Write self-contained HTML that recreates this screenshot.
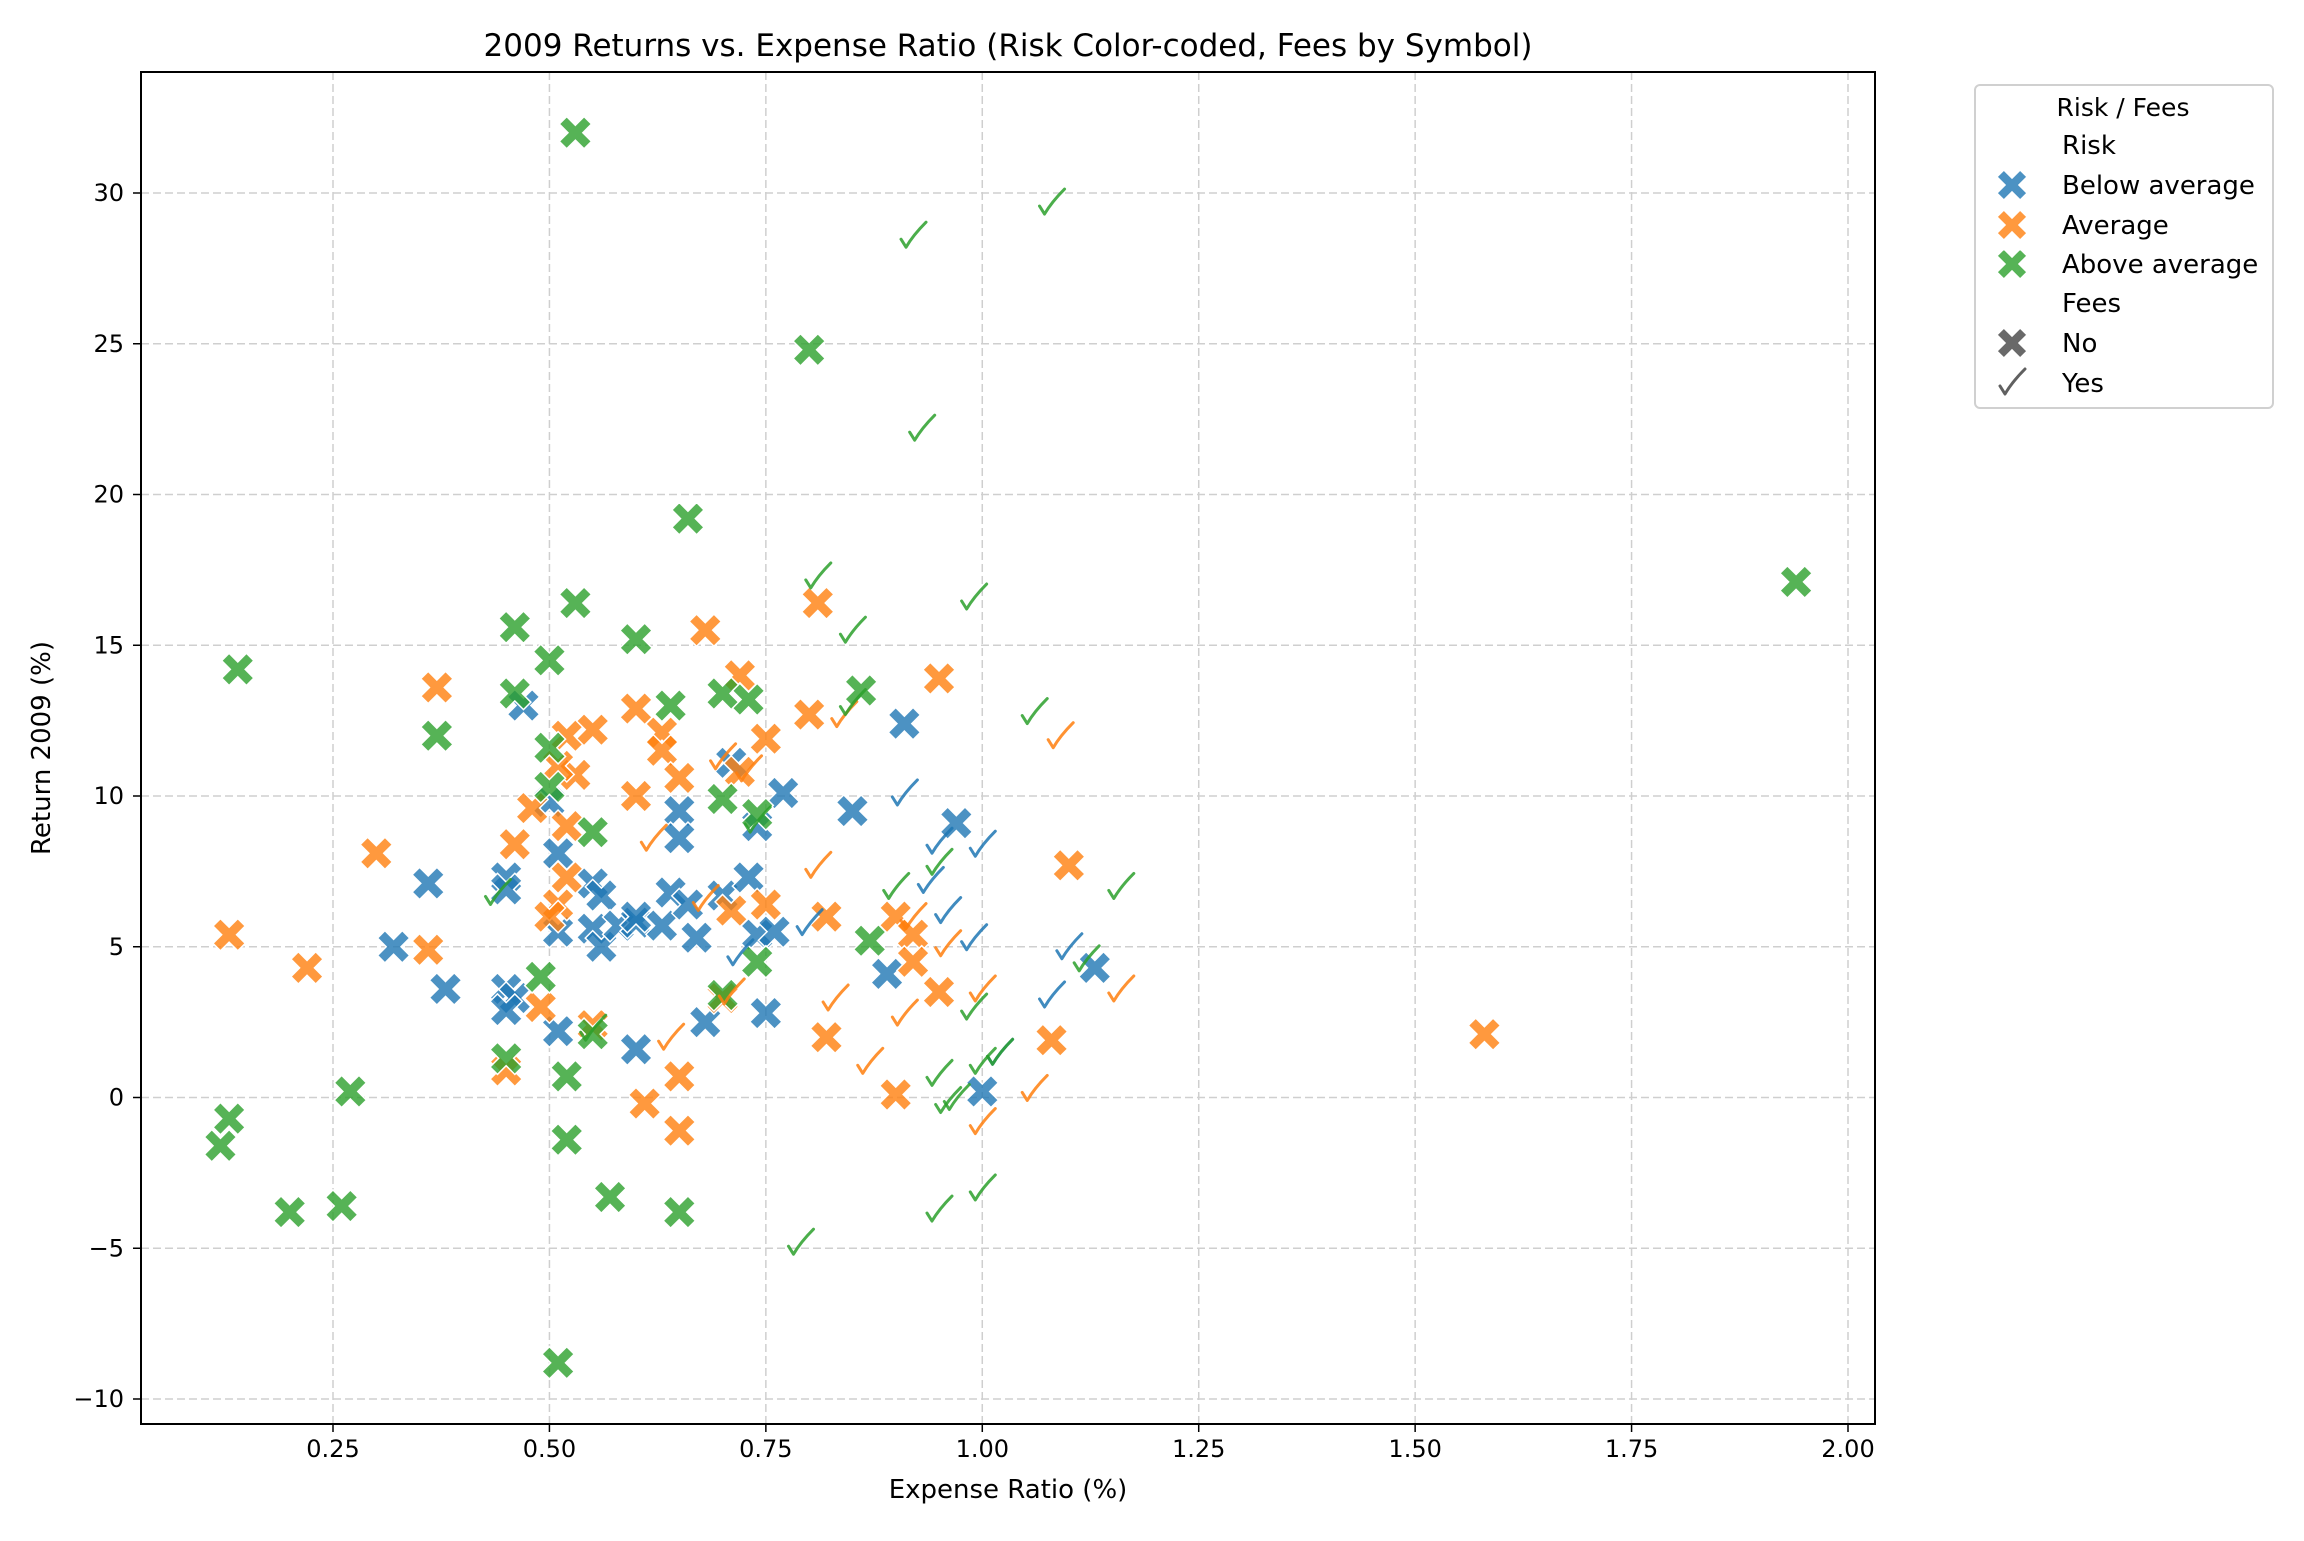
<!DOCTYPE html>
<html><head><meta charset="utf-8"><style>
html,body{margin:0;padding:0;background:#fff;}
svg text{font-family:"DejaVu Sans","Liberation Sans",sans-serif;}
</style></head><body>
<svg id="chart" width="2304" height="1536" xmlns="http://www.w3.org/2000/svg">
<rect width="2304" height="1536" fill="#fff"/>
<g id="grid"></g>
<g id="marks"></g>
<rect x="141" y="72" width="1734" height="1352" fill="none" stroke="#000" stroke-width="2"/>
<g id="ticks"></g>
<text x="1008" y="56" font-size="31" text-anchor="middle">2009 Returns vs. Expense Ratio (Risk Color-coded, Fees by Symbol)</text>
<text x="1008" y="1498" font-size="26" text-anchor="middle">Expense Ratio (%)</text>
<text transform="translate(50,748) rotate(-90)" font-size="26" text-anchor="middle">Return 2009 (%)</text>
<g id="legend">
<rect x="1975" y="85" width="298" height="323" rx="5" fill="#fff" stroke="#d0d0d0" stroke-width="2"/>
<text x="2123" y="116" font-size="25" text-anchor="middle">Risk / Fees</text>
<text x="2062" y="154" font-size="26">Risk</text>
<text x="2062" y="194" font-size="26">Below average</text>
<text x="2062" y="234" font-size="26">Average</text>
<text x="2062" y="273" font-size="26">Above average</text>
<text x="2062" y="312" font-size="26">Fees</text>
<text x="2062" y="352" font-size="26">No</text>
<text x="2062" y="392" font-size="26">Yes</text>
</g>
</svg>
<script>
const xTicks = [0.25,0.5,0.75,1.0,1.25,1.5,1.75,2.0];
const xTickLabels = ["0.25","0.50","0.75","1.00","1.25","1.50","1.75","2.00"];
const yTicks = [-10,-5,0,5,10,15,20,25,30];
const yTickLabels = ["\u221210","\u22125","0","5","10","15","20","25","30"];
const riskColors = {B:"#1f77b4",A:"#ff7f0e",H:"#2ca02c"};
const belowNo = [[0.47,13.0],[0.91,12.4],[0.77,10.1],[0.85,9.5],[0.97,9.1],[0.65,9.5],[0.65,8.6],[0.74,9.0],[0.36,7.1],[0.45,7.3],[0.45,6.9],[0.51,8.1],[0.50,9.8],[0.32,5.0],[0.38,3.6],[0.45,3.6],[0.46,3.3],[0.45,2.9],[0.51,2.2],[0.51,5.5],[0.55,7.1],[0.55,5.6],[0.56,6.7],[0.56,5.0],[0.58,5.7],[0.60,5.8],[0.60,6.0],[0.63,5.7],[0.64,6.8],[0.66,6.4],[0.67,5.3],[0.70,6.7],[0.71,11.1],[0.73,7.3],[0.74,5.4],[0.76,5.5],[0.60,1.6],[0.68,2.5],[0.75,2.8],[0.89,4.1],[1.00,0.2],[1.13,4.3]];
const belowYes = [[0.91,10.1],[1.00,8.4],[0.95,8.5],[0.94,7.2],[0.96,6.2],[0.99,5.3],[1.10,5.0],[1.08,3.4],[1.02,1.5],[0.80,5.8],[0.72,4.8]];
const avgNo = [[0.37,13.6],[0.30,8.1],[0.13,5.4],[0.22,4.3],[0.36,4.9],[0.46,8.4],[0.48,9.6],[0.52,9.0],[0.53,10.7],[0.52,12.0],[0.55,12.2],[0.51,11.0],[0.60,12.9],[0.60,10.0],[0.63,12.1],[0.63,11.5],[0.65,10.6],[0.68,15.5],[0.72,14.0],[0.72,10.8],[0.75,11.9],[0.80,12.7],[0.81,16.4],[0.95,13.9],[0.82,6.0],[0.75,6.4],[0.71,6.2],[0.52,7.3],[0.51,6.4],[0.50,6.0],[0.49,3.0],[0.45,0.9],[0.55,2.4],[0.61,-0.2],[0.65,0.7],[0.65,-1.1],[0.70,3.3],[0.82,2.0],[0.90,0.1],[0.90,6.0],[0.92,5.4],[0.92,4.5],[0.95,3.5],[1.08,1.9],[1.10,7.7],[1.58,2.1]];
const avgYes = [[1.09,12.0],[0.62,8.6],[0.81,7.7],[0.70,11.3],[0.73,10.9],[0.84,12.7],[0.83,3.3],[0.91,2.8],[0.87,1.2],[1.00,3.6],[1.00,-0.8],[1.06,0.3],[1.16,3.6],[0.96,5.1],[0.92,6.0],[0.64,2.0],[0.68,6.6],[0.71,3.5]];
const aboveNo = [[0.53,32.0],[0.80,24.8],[0.66,19.2],[1.94,17.1],[0.53,16.4],[0.46,15.6],[0.60,15.2],[0.50,14.5],[0.14,14.2],[0.46,13.4],[0.64,13.0],[0.70,13.4],[0.73,13.2],[0.86,13.5],[0.37,12.0],[0.50,11.6],[0.50,10.3],[0.70,9.9],[0.74,9.4],[0.55,8.8],[0.87,5.2],[0.74,4.5],[0.49,4.0],[0.70,3.4],[0.55,2.1],[0.45,1.3],[0.52,0.7],[0.27,0.2],[0.13,-0.7],[0.12,-1.6],[0.52,-1.4],[0.57,-3.3],[0.65,-3.8],[0.20,-3.8],[0.26,-3.6],[0.51,-8.8]];
const aboveYes = [[1.08,29.7],[0.92,28.6],[0.93,22.2],[0.81,17.3],[0.99,16.6],[0.85,15.5],[1.06,12.8],[0.85,13.1],[1.16,7.0],[0.90,7.0],[0.95,7.8],[0.44,6.8],[1.12,4.6],[0.99,3.0],[0.95,0.8],[1.00,1.2],[1.02,1.5],[0.97,0.0],[0.96,-0.1],[0.95,-3.7],[1.00,-3.0],[0.79,-4.8],[0.55,2.3],[0.74,9.2]];

const NS="http://www.w3.org/2000/svg";
function sx(v){return 333+(v-0.25)*(1848-333)/1.75;}
function sy(v){return 1399-(v+10)*(1399-193)/40;}
const grid=document.getElementById('grid'), ticks=document.getElementById('ticks'), marks=document.getElementById('marks');
function mk(tag,attrs,parent){const e=document.createElementNS(NS,tag);for(const k in attrs)e.setAttribute(k,attrs[k]);parent.appendChild(e);return e;}
xTicks.forEach((t,i)=>{
  const g=mk('line',{x1:sx(t),x2:sx(t),y1:72,y2:1424,stroke:'#cfcfcf','stroke-width':1.5,'stroke-dasharray':'8,4'},grid);
  
  
  mk('line',{x1:sx(t),x2:sx(t),y1:1424,y2:1432,stroke:'#000','stroke-width':1.5},ticks);
  const tx=mk('text',{x:sx(t),y:1457,'font-size':24,'text-anchor':'middle'},ticks);
  tx.textContent=xTickLabels[i];
  
  
});
yTicks.forEach((t,i)=>{
  const g=mk('line',{x1:141,x2:1875,y1:sy(t),y2:sy(t),stroke:'#cfcfcf','stroke-width':1.5,'stroke-dasharray':'8,4'},grid);
  
  
  mk('line',{x1:133,x2:141,y1:sy(t),y2:sy(t),stroke:'#000','stroke-width':1.5},ticks);
  const tx=mk('text',{x:124,y:sy(t)+8,'font-size':24,'text-anchor':'end'},ticks);
  tx.textContent=yTickLabels[i];
  
  
});
const xPts="0,-0.24 0.28,-0.52 0.52,-0.28 0.24,0 0.52,0.28 0.28,0.52 0,0.24 -0.28,0.52 -0.52,0.28 -0.24,0 -0.52,-0.28 -0.28,-0.52";
function xMarker(cx,cy,color,size,parent){
  const pts=xPts.split(' ').map(p=>{const [a,b]=p.split(',').map(Number);return (cx+a*size)+','+(cy+b*size);}).join(' ');
  return mk('polygon',{points:pts,fill:color,'fill-opacity':0.8,stroke:'#fff','stroke-width':1.5},parent);
}
function checkMarker(cx,cy,color,parent){
  return mk('path',{d:`M${cx-12},${cy+4} L${cx-7},${cy+12} Q${cx},${cy} ${cx+13},${cy-13}`,fill:'none',stroke:color,'stroke-width':3,'stroke-opacity':0.85,'stroke-linecap':'round','stroke-linejoin':'round'},parent);
}
const groups=[[belowNo,'B',0],[avgNo,'A',0],[aboveNo,'H',0],[belowYes,'B',1],[avgYes,'A',1],[aboveYes,'H',1]];
groups.forEach(([arr,r,f])=>{
  arr.forEach(d=>{
    let el;
    if(f) el=checkMarker(sx(d[0]),sy(d[1]),riskColors[r],marks);
    else el=xMarker(sx(d[0]),sy(d[1]),riskColors[r],31,marks);
    
    
  });
});
const lg=document.getElementById('legend');
[['B',185],['A',225],['H',264]].forEach(([r,y])=>{
  const e=xMarker(2012,y,riskColors[r],29,lg);
  
  
});
const n=xMarker(2012,343,'#444',29,lg);


const y=checkMarker(2012,382,'#444',lg);


</script>
</body></html>
